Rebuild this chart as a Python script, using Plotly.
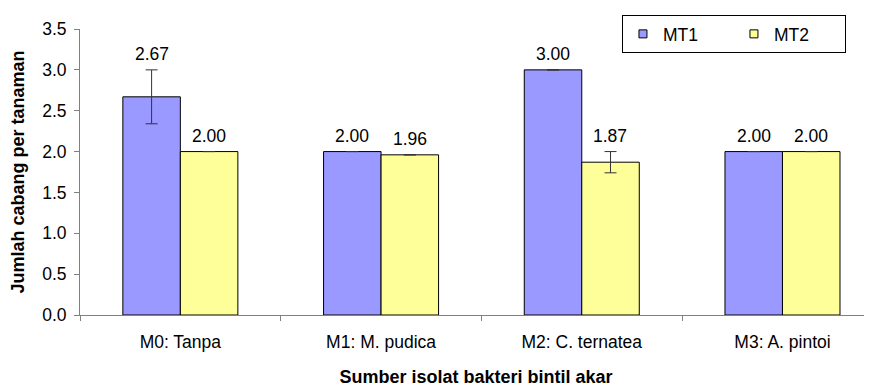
import plotly.graph_objects as go

categories = ["M0: Tanpa", "M1: M. pudica", "M2: C. ternatea", "M3: A. pintoi"]
mt1 = [2.67, 2.00, 3.00, 2.00]
mt1_err = [0.33, 0.0, 0.0, 0.0]
mt2 = [2.00, 1.96, 1.87, 2.00]
mt2_err = [0.0, 0.0, 0.13, 0.0]
y_ticks = [0.0, 0.5, 1.0, 1.5, 2.0, 2.5, 3.0, 3.5]

FONT = "Liberation Sans, Arial, sans-serif"
C1 = "#9999FF"
C2 = "#FFFF99"

fig = go.Figure()
fig.add_trace(go.Bar(
    x=categories, y=mt1, name="MT1", showlegend=False,
    marker=dict(color=C1, line=dict(color="black", width=1)),
    error_y=dict(type="data", array=mt1_err, visible=True, color="#333333", thickness=1, width=6),
))
fig.add_trace(go.Bar(
    x=categories, y=mt2, name="MT2", showlegend=False,
    marker=dict(color=C2, line=dict(color="black", width=1)),
    error_y=dict(type="data", array=mt2_err, visible=True, color="#333333", thickness=1, width=6),
))
# legend entries with small square symbols
for name, col in (("MT1", C1), ("MT2", C2)):
    fig.add_trace(go.Scatter(
        x=[None], y=[None], mode="markers", name=name,
        marker=dict(symbol="square", size=8, color=col, line=dict(color="black", width=1)),
    ))

for i, c in enumerate(categories):
    for vals, errs, off in ((mt1, mt1_err, -0.143), (mt2, mt2_err, 0.143)):
        fig.add_annotation(
            x=i + off, y=vals[i] + errs[i], xref="x", yref="y",
            text=f"{vals[i]:.2f}", showarrow=False, yanchor="bottom", yshift=4,
            font=dict(family=FONT, size=17.5, color="black"),
        )

fig.update_layout(
    template="none",
    width=864, height=379,
    margin=dict(l=72, r=0, t=21, b=72, pad=0, autoexpand=False),
    paper_bgcolor="white", plot_bgcolor="white",
    barmode="group", bargap=0.427, bargroupgap=0,
    font=dict(family=FONT, size=17.5, color="black"),
    showlegend=True,
    legend=dict(
        orientation="h",
        x=0.6843, y=1.049, xanchor="left", yanchor="top",
        bordercolor="black", borderwidth=1, bgcolor="white",
        font=dict(family=FONT, size=17.5, color="black"),
        entrywidth=66,
    ),
    xaxis=dict(
        type="category", range=[-0.5, 3.446], automargin=False,
        showline=True, linecolor="#808080", linewidth=1,
        ticks="outside", tickson="boundaries", ticklen=5, tickcolor="#808080",
        ticklabelstandoff=11,
        showgrid=False, zeroline=False,
        title=dict(text="<b>Sumber isolat bakteri bintil akar</b>", font=dict(family=FONT, size=18), standoff=20),
    ),
    yaxis=dict(
        range=[0, 3.5], tickvals=y_ticks, tickformat=".1f", automargin=False,
        showline=True, linecolor="#808080", linewidth=1,
        ticks="outside", ticklen=5, tickcolor="#808080",
        ticklabelstandoff=4,
        showgrid=False, zeroline=False,
        title=dict(text="<b>Jumlah cabang per tanaman</b>", font=dict(family=FONT, size=18), standoff=13),
    ),
)

fig.write_html("out.html")
